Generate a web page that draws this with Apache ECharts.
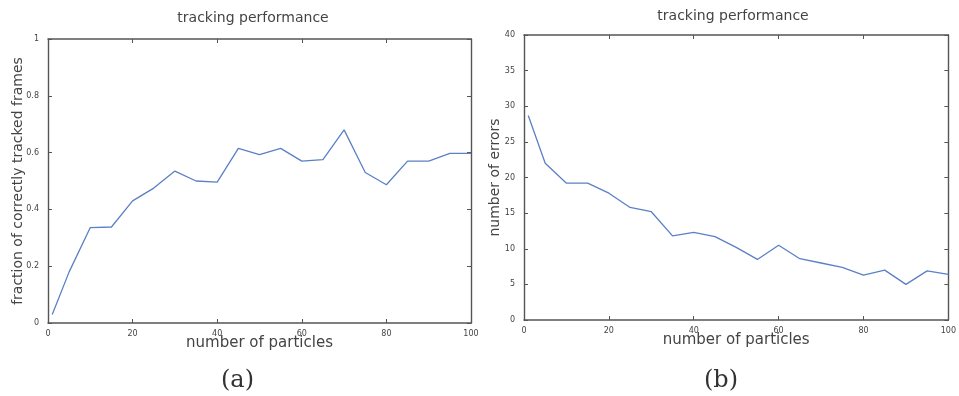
<!DOCTYPE html>
<html>
<head>
<meta charset="utf-8">
<script src="https://cdn.jsdelivr.net/npm/echarts@6/dist/echarts.min.js"></script>
<style>
  html, body { margin: 0; padding: 0; background: #fff; }
  #chart { width: 959px; height: 396px; }
</style>
</head>
<body>
<div id="chart"></div>
<script>
// Number of particles used by the tracker
const particles = [1, 5, 10, 15, 20, 25, 30, 35, 40, 45, 50, 55, 60, 65, 70, 75, 80, 85, 90, 95, 100];
// (a) fraction of correctly tracked frames
const fractionTracked = [0.03, 0.18, 0.336, 0.338, 0.43, 0.475, 0.535, 0.50, 0.496, 0.615, 0.593,
  0.615, 0.57, 0.575, 0.68, 0.53, 0.487, 0.57, 0.57, 0.597, 0.597];
// (b) number of errors
const errorCount = [28.7, 22.0, 19.2, 19.2, 17.8, 15.8, 15.2, 11.8, 12.3, 11.7, 10.2,
  8.5, 10.5, 8.6, 8.0, 7.4, 6.3, 7.0, 5.0, 6.9, 6.4];

const panelTitle = 'tracking performance';
const xName = 'number of particles';
const yNames = ['fraction of correctly tracked frames', 'number of errors'];
const panelTags = ['(a)', '(b)'];

const textColor = '#444';
const frameColor = '#555';
const lineColor = '#5b80c6';

const chart = echarts.init(document.getElementById('chart'));

function xAxisFor(gridIndex, position, showLabels) {
  return {
    type: 'value', gridIndex, position, min: 0, max: 100, interval: 20,
    name: showLabels ? xName : '',
    nameLocation: 'middle', nameGap: 13, nameMoveOverlap: false,
    nameTextStyle: { fontFamily: 'DejaVu Sans', fontSize: 15, color: textColor },
    axisLine: { show: true, onZero: false, lineStyle: { color: frameColor, width: 1.5 } },
    axisTick: { show: true, inside: true, length: 4, lineStyle: { color: frameColor } },
    axisLabel: { show: showLabels, fontFamily: 'DejaVu Sans', fontSize: 8, color: textColor, margin: 7 },
    splitLine: { show: false }
  };
}

function yAxisFor(gridIndex, position, showLabels, max, interval, name, gap, fmt) {
  return {
    type: 'value', gridIndex, position, min: 0, max, interval,
    name: showLabels ? name : '',
    nameLocation: 'middle', nameGap: gap, nameMoveOverlap: false,
    nameTextStyle: { fontFamily: 'DejaVu Sans', fontSize: 14, color: textColor },
    axisLine: { show: true, onZero: false, lineStyle: { color: frameColor, width: 1.4 } },
    axisTick: { show: true, inside: true, length: 4, lineStyle: { color: frameColor } },
    axisLabel: { show: showLabels, fontFamily: 'DejaVu Sans', fontSize: 8, color: textColor, margin: 9, formatter: fmt },
    splitLine: { show: false }
  };
}

const titleStyle = { fontFamily: 'DejaVu Sans', fontSize: 14, fontWeight: 'normal', color: textColor };

const option = {
  backgroundColor: '#fff',
  animation: false,
  title: [
    { text: panelTitle, left: 248, top: 6, textAlign: 'center', textStyle: titleStyle },
    { text: panelTitle, left: 728, top: 4, textAlign: 'center', textStyle: titleStyle }
  ],
  grid: [
    { left: 48, right: 488, top: 39, bottom: 73 },
    { left: 524, right: 7, top: 35, bottom: 76 }
  ],
  xAxis: [
    xAxisFor(0, 'bottom', true),
    xAxisFor(0, 'top', false),
    xAxisFor(1, 'bottom', true),
    xAxisFor(1, 'top', false)
  ],
  yAxis: [
    yAxisFor(0, 'left', true, 1, 0.2, yNames[0], 23, v => String(+v.toFixed(1))),
    yAxisFor(0, 'right', false, 1, 0.2, '', 0, null),
    yAxisFor(1, 'left', true, 40, 5, yNames[1], 22, null),
    yAxisFor(1, 'right', false, 40, 5, '', 0, null)
  ],
  series: [
    { type: 'line', xAxisIndex: 0, yAxisIndex: 0, showSymbol: false,
      data: particles.map((p, i) => [p, fractionTracked[i]]),
      lineStyle: { color: lineColor, width: 1.3 } },
    { type: 'line', xAxisIndex: 2, yAxisIndex: 2, showSymbol: false,
      data: particles.map((p, i) => [p, errorCount[i]]),
      lineStyle: { color: lineColor, width: 1.3 } }
  ],
  graphic: [
    { type: 'text', left: 221, top: 369,
      style: { text: panelTags[0], font: '24px "DejaVu Serif"', fill: '#333' } },
    { type: 'text', left: 704, top: 369,
      style: { text: panelTags[1], font: '24px "DejaVu Serif"', fill: '#333' } }
  ]
};

chart.setOption(option);
</script>
</body>
</html>
